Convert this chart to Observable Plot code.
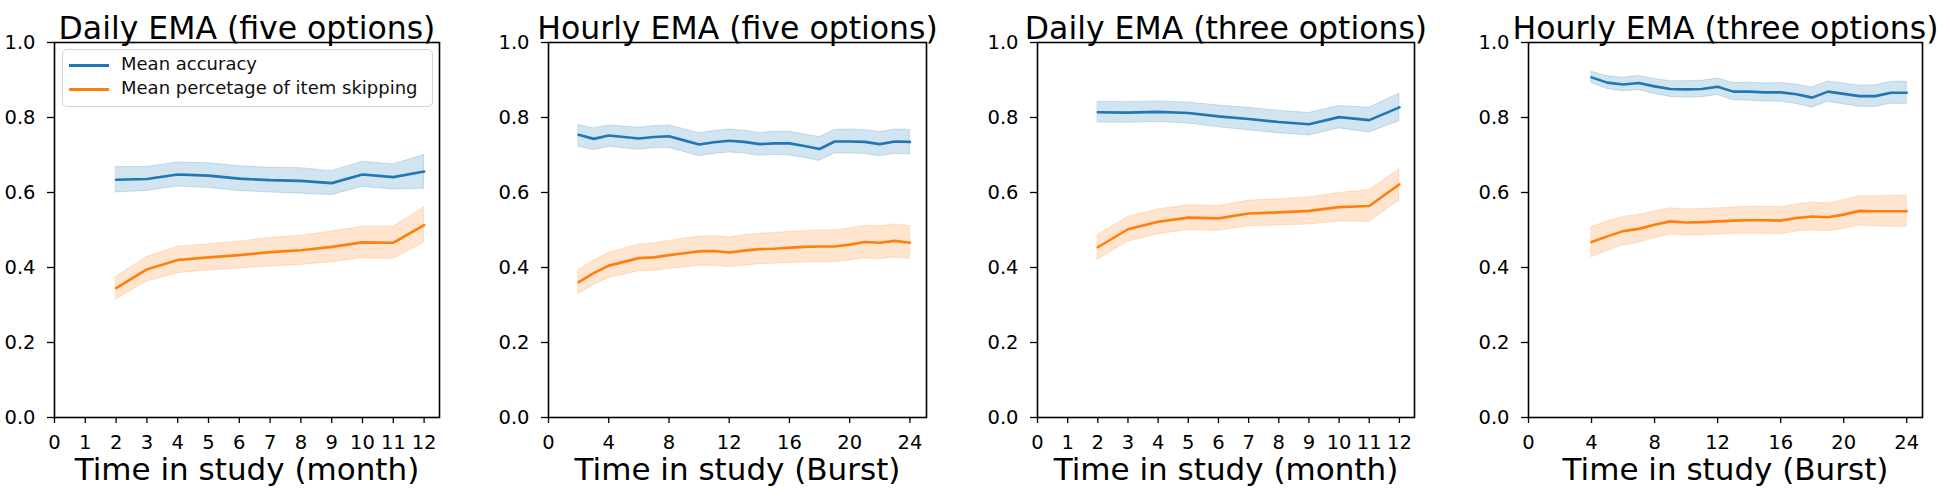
<!DOCTYPE html>
<html>
<head>
<meta charset="utf-8">
<script src="https://cdn.jsdelivr.net/npm/d3@7"></script>
<script src="https://cdn.jsdelivr.net/npm/@observablehq/plot@0.6"></script>
<style>
  body { margin: 0; background: #fff; }
  #chart { position: relative; width: 1950px; height: 500px; background: #fff; font-family: "DejaVu Sans", sans-serif; }
  .panel { position: absolute; top: 0; }
  .panel svg { overflow: visible; }
</style>
</head>
<body>
<div id="chart"></div>
<script>
// ---------- data ----------
const titles = ["Daily EMA (five options)", "Hourly EMA (five options)", "Daily EMA (three options)", "Hourly EMA (three options)"];
const xLabels = ["Time in study (month)", "Time in study (Burst)", "Time in study (month)", "Time in study (Burst)"];
const legendLabels = ["Mean accuracy", "Mean percetage of item skipping"];

const monthTicks = [0,1,2,3,4,5,6,7,8,9,10,11,12];
const burstTicks = [0,4,8,12,16,20,24];
const yTicks = [0.0,0.2,0.4,0.6,0.8,1.0];

// Panel 1: Daily EMA (five options)
const months1 = [2,3,4,5,6,7,8,9,10,11,12];
const acc1   = [0.634,0.636,0.648,0.645,0.637,0.633,0.631,0.625,0.648,0.641,0.656];
const acc1Lo = [0.600,0.604,0.616,0.612,0.604,0.600,0.597,0.593,0.615,0.608,0.610];
const acc1Hi = [0.668,0.668,0.680,0.678,0.670,0.666,0.665,0.657,0.682,0.675,0.700];
const skip1   = [0.345,0.395,0.420,0.427,0.433,0.441,0.446,0.455,0.467,0.466,0.513];
const skip1Lo = [0.315,0.362,0.385,0.392,0.397,0.403,0.407,0.414,0.425,0.423,0.467];
const skip1Hi = [0.375,0.428,0.455,0.462,0.469,0.479,0.485,0.496,0.509,0.509,0.560];

// Panel 2: Hourly EMA (five options)
const bursts2 = [2,3,4,5,6,7,8,9,10,11,12,13,14,15,16,17,18,19,20,21,22,23,24];
const acc2   = [0.754,0.743,0.752,0.748,0.744,0.748,0.750,0.739,0.728,0.734,0.738,0.735,0.729,0.731,0.731,0.724,0.716,0.736,0.736,0.735,0.729,0.736,0.735];
const acc2Lo = [0.722,0.713,0.722,0.718,0.714,0.718,0.719,0.708,0.697,0.703,0.707,0.704,0.698,0.700,0.699,0.692,0.684,0.704,0.704,0.703,0.697,0.703,0.702];
const acc2Hi = [0.780,0.771,0.779,0.776,0.773,0.777,0.779,0.769,0.758,0.764,0.768,0.765,0.759,0.762,0.762,0.755,0.748,0.767,0.768,0.767,0.761,0.768,0.767];
const skip2   = [0.361,0.385,0.405,0.415,0.425,0.427,0.433,0.438,0.443,0.444,0.440,0.445,0.449,0.450,0.453,0.455,0.456,0.456,0.461,0.468,0.466,0.471,0.466];
const skip2Lo = [0.330,0.353,0.372,0.381,0.390,0.391,0.396,0.400,0.405,0.405,0.401,0.405,0.409,0.410,0.412,0.414,0.414,0.414,0.419,0.425,0.422,0.427,0.423];
const skip2Hi = [0.393,0.418,0.439,0.450,0.461,0.464,0.471,0.477,0.482,0.484,0.480,0.486,0.490,0.492,0.495,0.497,0.499,0.499,0.504,0.511,0.510,0.515,0.510];

// Panel 3: Daily EMA (three options)
const months3 = [2,3,4,5,6,7,8,9,10,11,12];
const acc3   = [0.814,0.813,0.815,0.812,0.803,0.796,0.788,0.782,0.801,0.793,0.827];
const acc3Lo = [0.787,0.786,0.788,0.784,0.774,0.766,0.758,0.752,0.771,0.760,0.790];
const acc3Hi = [0.842,0.841,0.843,0.840,0.832,0.826,0.818,0.812,0.831,0.826,0.864];
const skip3   = [0.454,0.502,0.522,0.533,0.531,0.544,0.547,0.551,0.561,0.564,0.622];
const skip3Lo = [0.421,0.469,0.489,0.500,0.498,0.510,0.512,0.515,0.523,0.522,0.578];
const skip3Hi = [0.487,0.535,0.555,0.566,0.564,0.578,0.582,0.587,0.599,0.606,0.662];

// Panel 4: Hourly EMA (three options)
const bursts4 = [4,5,6,7,8,9,10,11,12,13,14,15,16,17,18,19,20,21,22,23,24];
const acc4   = [0.907,0.893,0.888,0.892,0.883,0.876,0.875,0.876,0.882,0.869,0.869,0.867,0.867,0.862,0.853,0.869,0.863,0.857,0.857,0.866,0.866];
const acc4Lo = [0.892,0.876,0.870,0.873,0.863,0.855,0.853,0.854,0.860,0.846,0.845,0.843,0.842,0.836,0.826,0.842,0.835,0.829,0.828,0.837,0.836];
const acc4Hi = [0.922,0.910,0.906,0.911,0.903,0.897,0.897,0.898,0.904,0.892,0.893,0.891,0.892,0.888,0.880,0.896,0.891,0.885,0.886,0.895,0.896];
const skip4   = [0.468,0.483,0.497,0.503,0.514,0.523,0.520,0.521,0.523,0.525,0.526,0.526,0.525,0.532,0.536,0.534,0.541,0.551,0.550,0.550,0.550];
const skip4Lo = [0.428,0.444,0.459,0.466,0.478,0.488,0.485,0.486,0.488,0.490,0.490,0.490,0.489,0.496,0.499,0.497,0.503,0.512,0.510,0.509,0.508];
const skip4Hi = [0.508,0.522,0.535,0.540,0.550,0.558,0.555,0.556,0.558,0.560,0.562,0.562,0.561,0.568,0.573,0.571,0.579,0.590,0.590,0.591,0.592];

// ---------- presentation ----------
const BLUE = "#1f77b4", ORANGE = "#ff7f0e";
const TITLE_SIZE = 31.5, LABEL_SIZE = 31, TICK_SIZE = 19.5;
const panels = [
  {x: months1, acc: [acc1, acc1Lo, acc1Hi], skip: [skip1, skip1Lo, skip1Hi], ticks: monthTicks, xmax: 12.5, left: 0,    width: 490, mL: 54, mR: 51},
  {x: bursts2, acc: [acc2, acc2Lo, acc2Hi], skip: [skip2, skip2Lo, skip2Hi], ticks: burstTicks, xmax: 25.1, left: 490,  width: 490, mL: 58, mR: 54},
  {x: months3, acc: [acc3, acc3Lo, acc3Hi], skip: [skip3, skip3Lo, skip3Hi], ticks: monthTicks, xmax: 12.5, left: 980,  width: 480, mL: 57, mR: 46},
  {x: bursts4, acc: [acc4, acc4Lo, acc4Hi], skip: [skip4, skip4Lo, skip4Hi], ticks: burstTicks, xmax: 25.0, left: 1460, width: 490, mL: 68, mR: 28}
];

const chart = document.getElementById("chart");

function rows(xs, [v, lo, hi]) {
  return xs.map((x, i) => ({x, y: v[i], lo: lo[i], hi: hi[i]}));
}

panels.forEach((p, k) => {
  const accRows = rows(p.x, p.acc);
  const skipRows = rows(p.x, p.skip);
  const svg = Plot.plot({
    width: p.width,
    height: 500,
    marginLeft: p.mL,
    marginRight: p.mR,
    marginTop: 42,
    marginBottom: 83,
    x: {domain: [0, p.xmax]},
    y: {domain: [0, 1]},
    style: {fontFamily: "DejaVu Sans, sans-serif", fontSize: TICK_SIZE + "px", color: "black", background: "transparent", overflow: "visible"},
    marks: [
      Plot.areaY(accRows, {x: "x", y1: "lo", y2: "hi", fill: BLUE, fillOpacity: 0.2, stroke: BLUE, strokeOpacity: 0.2, strokeWidth: 1}),
      Plot.areaY(skipRows, {x: "x", y1: "lo", y2: "hi", fill: ORANGE, fillOpacity: 0.2, stroke: ORANGE, strokeOpacity: 0.2, strokeWidth: 1}),
      Plot.lineY(accRows, {x: "x", y: "y", stroke: BLUE, strokeWidth: 2.6}),
      Plot.lineY(skipRows, {x: "x", y: "y", stroke: ORANGE, strokeWidth: 2.6}),
      Plot.axisX(p.ticks, {tickSize: 6, tickPadding: 12, fontSize: TICK_SIZE, stroke: "black", strokeWidth: 1.3, fill: "black", label: null}),
      Plot.axisY(yTicks, {tickSize: 7, tickPadding: 12, fontSize: TICK_SIZE, stroke: "black", strokeWidth: 1.3, fill: "black", tickFormat: d3.format(".1f"), label: null}),
      Plot.frame({stroke: "black", strokeWidth: 1.6}),
      Plot.text([titles[k]], {frameAnchor: "top", dy: -25.5, fontSize: TITLE_SIZE, fill: "black"}),
      Plot.text([xLabels[k]], {frameAnchor: "bottom", dy: 62, fontSize: LABEL_SIZE, fill: "black"})
    ]
  });
  const wrap = document.createElement("div");
  wrap.className = "panel";
  wrap.style.left = p.left + "px";
  wrap.appendChild(svg);
  chart.appendChild(wrap);
});

// ---------- legend (inside first panel) ----------
const legend = document.createElement("div");
Object.assign(legend.style, {
  position: "absolute", left: "62px", top: "49px", width: "371px", height: "58px",
  border: "1px solid #d3d3d3", borderRadius: "5px", background: "rgba(255,255,255,0.8)",
  boxSizing: "border-box"
});
[BLUE, ORANGE].forEach((c, i) => {
  const cy = 15 + i * 24;
  const sw = document.createElement("div");
  Object.assign(sw.style, {position: "absolute", left: "6px", top: (cy - 1.5) + "px", width: "40px", height: "3px", background: c});
  legend.appendChild(sw);
  const t = document.createElement("div");
  t.textContent = legendLabels[i];
  Object.assign(t.style, {position: "absolute", left: "58px", top: (cy - 11) + "px", lineHeight: "20px",
    fontSize: "18px", fontFamily: "DejaVu Sans, sans-serif", color: "#111", whiteSpace: "nowrap"});
  legend.appendChild(t);
});
chart.appendChild(legend);
</script>
</body>
</html>
